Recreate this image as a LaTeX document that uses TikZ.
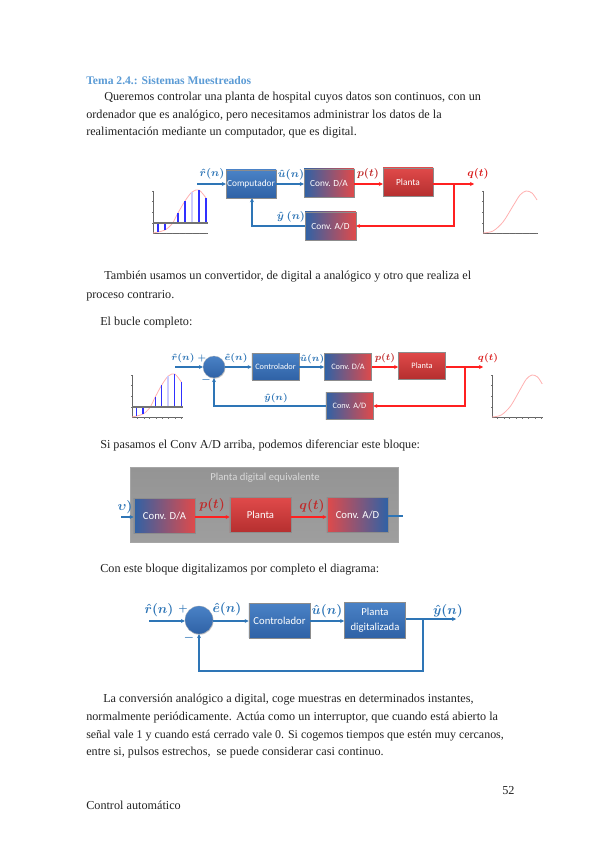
\documentclass[tikz,border=0pt]{standalone}
\usepackage{fontspec}
\setmainfont{Liberation Serif}
\newfontfamily\boxfont{Carlito}
\usetikzlibrary{arrows.meta, shadows}
\definecolor{cInk}{HTML}{222222}
\definecolor{cTitle}{HTML}{5B9BD5}
\definecolor{cBlue}{HTML}{2E75B6}
\definecolor{cBoxT}{HTML}{4A82C6}
\definecolor{cBoxB}{HTML}{2F62A6}
\definecolor{cRedT}{HTML}{E04A4A}
\definecolor{cRedB}{HTML}{B52F2F}
\definecolor{cGrad}{HTML}{2F62A6}
\definecolor{cRed}{HTML}{FF2020}
\definecolor{cLabR}{HTML}{C02A2A}
\definecolor{cStem}{HTML}{3030FF}
\definecolor{cCurve}{HTML}{FFB0B0}
\tikzset{
  txt/.style={anchor=west, inner sep=0pt, yshift=-0.5pt, text=cInk, font=\fontsize{9.15}{11}\selectfont},
  head/.style={txt, text=cTitle, font=\fontsize{8.7}{11}\selectfont\bfseries},
  base/.style={rectangle, draw=black!45, line width=0.3pt, align=center, inner sep=0pt,
               text=white, drop shadow={shadow xshift=0.5pt, shadow yshift=-0.8pt, fill=black!45, opacity=0.6}},
  bluebox/.style={base, top color=cBoxT, bottom color=cBoxB},
  redbox/.style={base, top color=cRedT, bottom color=cRedB},
  dabox/.style={base, left color=cGrad, right color=cRedT},
  adbox/.style={base, left color=cGrad, right color=cRedT},
  adboxb/.style={base, left color=cRedT, right color=cGrad},
  big/.style={minimum width=37.5pt, minimum height=21pt, font=\boxfont\fontsize{7}{8}\selectfont},
  small/.style={minimum width=35.5pt, minimum height=20pt, font=\boxfont\fontsize{6.2}{7}\selectfont},
  large/.style={minimum width=46pt, minimum height=26pt, font=\boxfont\fontsize{8}{10}\selectfont},
  sumnode/.style={circle, draw=black!30, line width=0.2pt, top color=cBoxT, bottom color=cBoxB, inner sep=0pt,
                  drop shadow={shadow xshift=0.4pt, shadow yshift=-0.6pt, fill=black!40, opacity=0.5}},
  bl/.style={-{Stealth[length=3pt, width=3pt]}, line width=1pt, draw=cBlue},
  rd/.style={-{Stealth[length=3pt, width=3pt]}, line width=1pt, draw=cRed},
  bln/.style={line width=1pt, draw=cBlue},
  lb/.style={inner sep=0pt, text=cBlue},
  lr/.style={inner sep=0pt, text=cLabR},
  lq/.style={inner sep=0pt, text=cRed!85!black},
  sza/.style={font=\fontsize{8}{10}\selectfont\boldmath},
  szb/.style={font=\fontsize{7.3}{10}\selectfont\boldmath},
  szc/.style={font=\fontsize{10}{12}\selectfont\boldmath},
}
\newcommand{\tickset}{
  \draw[black!60, line width=0.7pt] (0,-42) -- (0,0) -- (55,0);
  \foreach \tx in {6,13,19,26,32,39,46,53} \draw[black!55, line width=0.3pt] (\tx,0) -- (\tx,1.5);
  \foreach \ty in {10,21,32,42} \draw[black!55, line width=0.3pt] (0,-\ty) -- (-1.5,-\ty);
}
\newcommand{\sampleplot}[3]{
  \begin{scope}[shift={(#1,#2)}, xscale=#3]
    \tickset
    \draw[cCurve, line width=0.6pt] plot[smooth] coordinates {(0,0) (5,-1) (12,-3) (19,-9) (25,-20) (32,-32) (39,-41) (46,-43) (53,-35)};
    \foreach \sx/\sy in {5/-1, 12/-3, 25/-20, 32/-32, 46/-43, 53/-35} \draw[cStem, line width=1pt] (\sx,-10) -- (\sx,\sy);
    \draw[cStem!25, line width=1.2pt] (39,-10) -- (39,-41);
    \draw[black!55, line width=0.9pt] (0,-10) -- (55,-10);
  \end{scope}
}
\newcommand{\contplot}[3]{
  \begin{scope}[shift={(#1,#2)}, xscale=#3]
    \tickset
    \draw[cCurve, line width=0.6pt] plot[smooth] coordinates {(0,0) (10,-2) (20,-11) (30,-27) (37,-38) (43,-42) (49,-40) (54,-33)};
  \end{scope}
}

\begin{document}
\begin{tikzpicture}[x=0.75pt, y=-0.75pt]
  \useasboundingbox (0,0) rectangle (599,848);

  % ---- text above the first loop
  \node[head] (t0) at (86,80) {Tema 2.4.: Sistemas Muestreados};
  \node[txt] (t1) at (104,97) {Queremos controlar una planta de hospital cuyos datos son continuos, con un};
  \node[txt] (t2) at (86,114.5) {ordenador que es analógico, pero necesitamos administrar los datos de la};
  \node[txt] (t3) at (86,132) {realimentación mediante un computador, que es digital.};

  % ---- first loop
  \sampleplot{153}{233}{1}
  \contplot{483}{233}{1}
  \node[bluebox, big] (compa) at (251,184) {Computador};
  \node[dabox, big] (daa) at (329,183) {Conv. D/A};
  \node[redbox, big] (planta) at (408,182) {Planta};
  \node[adbox, big, minimum width=38pt] (ada) at (330.5,226) {Conv. A/D};
  \coordinate (rowa) at (0,184);
  \coordinate (ra) at (197,184);
  \coordinate (qa) at (474,184);
  \coordinate (ba) at (454,184);
  \coordinate (da) at (454,226);
  \coordinate (ca) at (252,226);
  \draw[bl] (ra) -- (compa.west |- rowa);
  \draw[bl] (compa.east |- rowa) -- (daa.west |- rowa);
  \draw[rd] (daa.east |- rowa) -- (planta.west |- rowa);
  \draw[rd] (planta.east |- rowa) -- (qa);
  \draw[rd] (ba) -- (da) -- (ada.east);
  \draw[bl] (ada.west) -- (ca) -- (ca |- compa.south);
  \node[lb, sza] (rla) at (212,174) {$\hat{r}(n)$};
  \node[lb, sza] (ula) at (291,175) {$\hat{u}(n)$};
  \node[lr, sza] (pla) at (368,174) {$p(t)$};
  \node[lq, sza] (qla) at (478,174) {$q(t)$};
  \node[lb, sza] (yla) at (291,217) {$\hat{y}\ (n)$};

  % ---- text between
  \node[txt] (t4) at (104,276) {También usamos un convertidor, de digital a analógico y otro que realiza el};
  \node[txt] (t5) at (86,295) {proceso contrario.};
  \node[txt] (t6) at (100,322) {El bucle completo:};

  % ---- complete loop
  \sampleplot{132}{417}{0.93}
  \contplot{492}{417}{0.93}
  \node[sumnode, minimum size=16.5pt] (sumb) at (214,367) {};
  \node[bluebox, small] (ctrlb) at (275.5,366.5) {Controlador};
  \node[dabox, small] (dab) at (348,366.5) {Conv. D/A};
  \node[redbox, small] (plantb) at (422,365.5) {Planta};
  \node[adbox, small] (adb) at (349.5,406) {Conv. A/D};
  \coordinate (rowb) at (0,367);
  \coordinate (rb) at (175,367);
  \coordinate (qb) at (483,367);
  \coordinate (bb) at (465,367);
  \coordinate (db) at (465,406);
  \coordinate (cb) at (214,406);
  \draw[bl] (rb) -- (sumb.west);
  \draw[bl] (sumb.east) -- (ctrlb.west |- rowb);
  \draw[bl] (ctrlb.east |- rowb) -- (dab.west |- rowb);
  \draw[rd] (dab.east |- rowb) -- (plantb.west |- rowb);
  \draw[rd] (plantb.east |- rowb) -- (qb);
  \draw[rd] (bb) -- (db) -- (adb.east);
  \draw[bl] (adb.west) -- (cb) -- (sumb.south);
  \node[lb, szb] (rlb) at (183,358) {$\hat{r}(n)$};
  \node[lb, font=\fontsize{6.5}{8}\selectfont\boldmath] (plb) at (202,358) {$+$};
  \node[lb, szb] (elb) at (236,358) {$\hat{e}(n)$};
  \node[lb, szb] (ulb) at (312,359) {$\hat{u}(n)$};
  \node[lr, szb] (plab) at (385,358) {$p(t)$};
  \node[lq, szb] (qlb) at (488,358) {$q(t)$};
  \node[lb, font=\fontsize{7}{8}\selectfont\boldmath] (mlb) at (206,380) {$-$};
  \node[lb, szb] (ylb) at (276,398) {$\hat{y}(n)$};

  \node[txt] (t7) at (100,445) {Si pasamos el Conv A/D arriba, podemos diferenciar este bloque:};

  % ---- equivalent plant
  \node[rectangle, draw=black!35, line width=0.3pt, top color=black!42, bottom color=black!38, minimum width=201pt, minimum height=56pt, inner sep=0pt,
        drop shadow={shadow xshift=0.6pt, shadow yshift=-0.8pt, fill=black!30, opacity=0.5}] (eqv) at (264,504.5) {};
  \node[inner sep=0pt, text=white!85!black, font=\boxfont\fontsize{8}{10}\selectfont] (eqvt) at (265,478) {Planta digital equivalente};
  \node[dabox, large] (dac) at (164.5,516) {Conv. D/A};
  \node[redbox, large] (plantc) at (260.5,515) {Planta};
  \node[adboxb, large] (adc) at (357.5,515) {Conv. A/D};
  \coordinate (rowc) at (0,517);
  \coordinate (ic) at (121,517);
  \coordinate (oc) at (403,516);
  \draw[bl] (ic) -- (dac.west |- rowc);
  \draw[rd] (dac.east |- rowc) -- (plantc.west |- rowc);
  \draw[rd] (plantc.east |- rowc) -- (adc.west |- rowc);
  \draw[bln] (adc.east |- oc) -- (oc);
  \node[lb, szc] (vlc) at (125,507) {$\upsilon)$};
  \node[lr, szc] (plc) at (212,505) {$p(t)$};
  \node[lr, szc] (qlc) at (312,506) {$q(t)$};

  \node[txt] (t8) at (100,569) {Con este bloque digitalizamos por completo el diagrama:};

  % ---- digitalised loop
  \node[sumnode, minimum size=21pt] (sumd) at (199,620) {};
  \node[bluebox, large] (ctrld) at (279.5,620.5) {Controlador};
  \node[bluebox, large, minimum height=27pt] (plantd) at (375,620) {Planta\\[1pt]digitalizada};
  \coordinate (rowd) at (0,621);
  \coordinate (rd) at (149,621);
  \coordinate (yd) at (456,619);
  \coordinate (bd) at (423,619);
  \coordinate (dd) at (423,671);
  \coordinate (cd) at (199,671);
  \draw[bl] (rd) -- (sumd.west |- rowd);
  \draw[bl] (sumd.east |- rowd) -- (ctrld.west |- rowd);
  \draw[bl] (ctrld.east |- rowd) -- (plantd.west |- rowd);
  \draw[bl] (plantd.east |- yd) -- (yd);
  \draw[bl] (bd) -- (dd) -- (cd) -- (sumd.south);
  \node[lb, szc] (rld) at (159,610) {$\hat{r}(n)$};
  \node[lb, font=\fontsize{7.5}{9}\selectfont\boldmath] (pld) at (183,609) {$+$};
  \node[lb, szc] (eld) at (227,609) {$\hat{e}(n)$};
  \node[lb, szc] (uld) at (327,611) {$\hat{u}(n)$};
  \node[lb, szc] (yld) at (448,611) {$\hat{y}(n)$};
  \node[lb, font=\fontsize{8}{9}\selectfont\boldmath] (mld) at (189,638) {$-$};

  % ---- closing text
  \node[txt] (t9) at (103,699) {La conversión analógico a digital, coge muestras en determinados instantes,};
  \node[txt] (t10) at (86,717) {normalmente periódicamente. Actúa como un interruptor, que cuando está abierto la};
  \node[txt, font=\fontsize{8.95}{11}\selectfont] (t11) at (86,735) {señal vale 1 y cuando está cerrado vale 0. Si cogemos tiempos que estén muy cercanos,};
  \node[txt] (t12) at (86,752) {entre si, pulsos estrechos,\ \ se puede considerar casi continuo.};
  \node[txt] (t13) at (502,790) {52};
  \node[txt] (t14) at (86,805) {Control automático};
\end{tikzpicture}
\end{document}
